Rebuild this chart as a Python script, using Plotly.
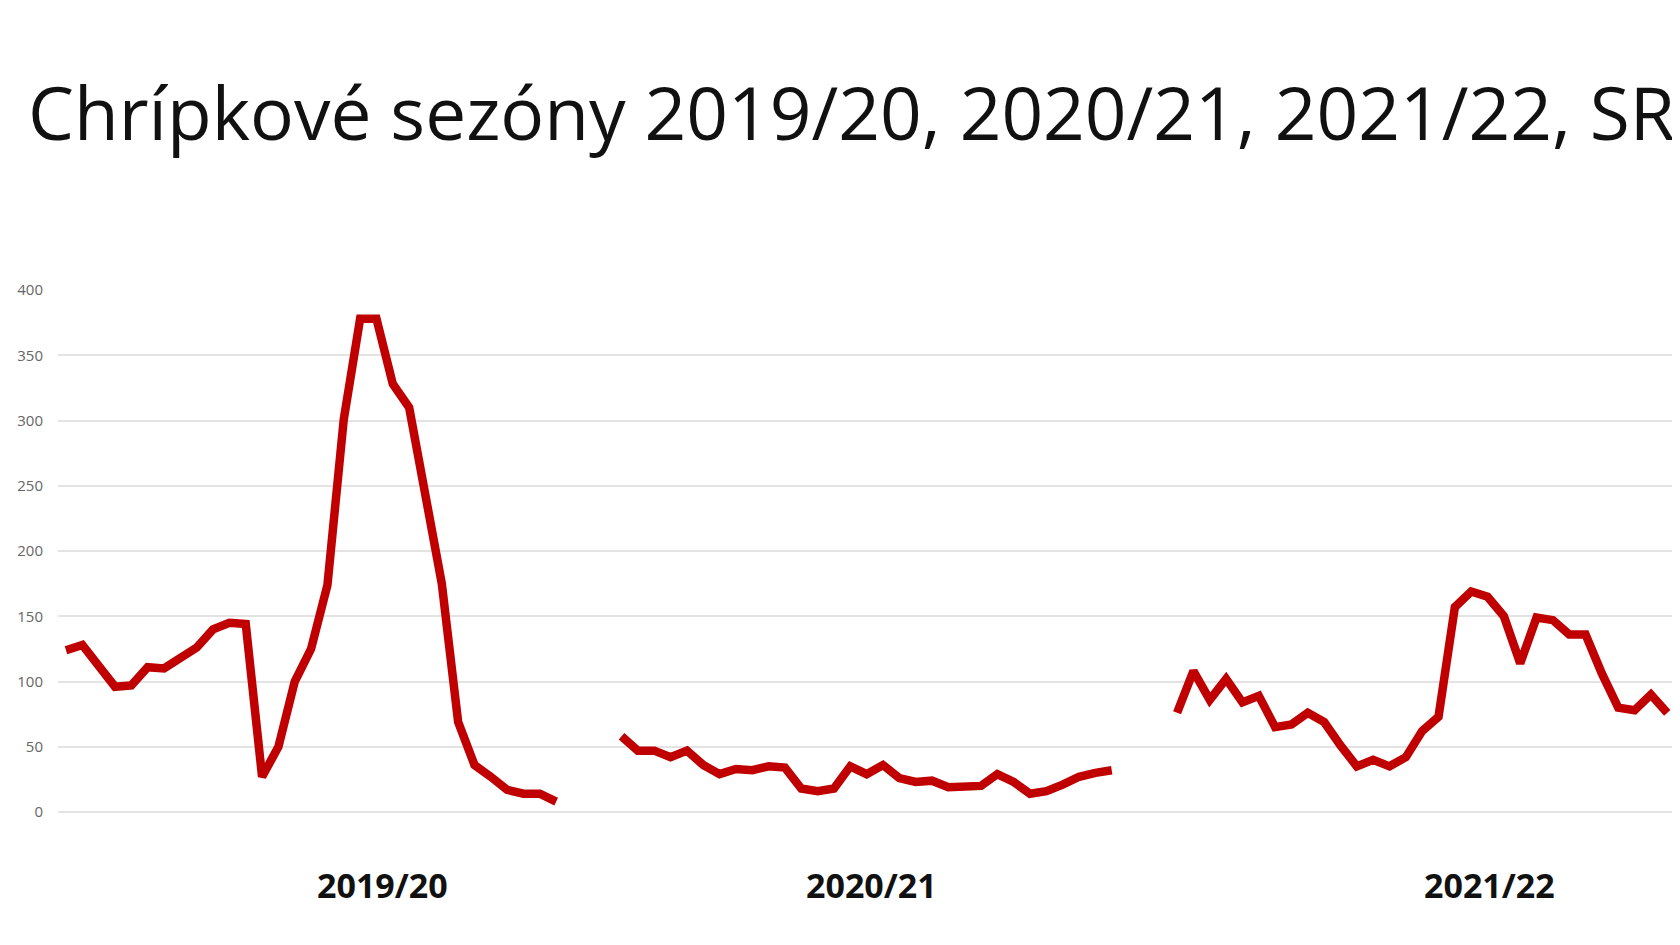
import plotly.graph_objects as go

# Weekly values per season (31 weeks each)
season_labels = ["2019/20", "2020/21", "2021/22"]
s2019 = [124, 128, 112, 96, 97, 111, 110, 118, 126, 140, 145, 144, 27, 50, 100, 125,
         174, 301, 378, 378, 328, 310, 245, 175, 69, 36, 27, 17, 14, 14, 8]
s2020 = [58, 47, 47, 42, 47, 36, 29, 33, 32, 35, 34, 18, 16, 18, 35, 29,
         36, 26, 23, 24, 19, 20, 20, 29, 23, 14, 16, 21, 27, 30, 32]
s2021 = [76, 108, 86, 102, 84, 89, 65, 67, 76, 69, 51, 35, 40, 35, 42, 62,
         73, 157, 169, 165, 150, 114, 149, 147, 136, 136, 106, 80, 78, 90, 76]
y_ticks = [0, 50, 100, 150, 200, 250, 300, 350, 400]
gap = 3

y = []
for i, s in enumerate([s2019, s2020, s2021]):
    if i > 0:
        y += [None] * gap
    y += s
x = list(range(len(y)))

fig = go.Figure()
fig.add_trace(go.Scatter(x=x, y=y, mode="lines",
                         line=dict(color="#C00000", width=8.5),
                         connectgaps=False, hoverinfo="skip"))

label_pos = [19.4, 49.3, 87.1]
for lp, lab in zip(label_pos, season_labels):
    fig.add_annotation(x=lp, xref="x", y=-0.14, yref="paper",
                       text="<b>" + lab + "</b>", showarrow=False,
                       font=dict(family="Open Sans", size=34, color="#111111"),
                       xanchor="center", yanchor="middle")

fig.update_layout(
    width=1680, height=945,
    paper_bgcolor="white", plot_bgcolor="white",
    margin=dict(l=50, r=7, t=282, b=141),
    showlegend=False,
    title=dict(text="Chrípkové sezóny 2019/20, 2020/21, 2021/22, SR",
               x=20 / 1680, xanchor="left", xref="container",
               y=1 - 106 / 945, yanchor="middle", yref="container",
               font=dict(family="Open Sans", size=73, color="#111111")),
    xaxis=dict(range=[-0.49, 98.84], showgrid=False, zeroline=False,
               showticklabels=False, showline=False, ticks=""),
    yaxis=dict(range=[0, 400], tickvals=y_ticks, showgrid=True,
               gridcolor="#e3e3e3", gridwidth=1.5, zeroline=True,
               zerolinecolor="#e3e3e3", zerolinewidth=1.5, showline=False,
               tickfont=dict(family="Open Sans", size=15, color="#666666"),
               ticks="", ticklabelstandoff=14),
)
fig.write_html("out.html")
